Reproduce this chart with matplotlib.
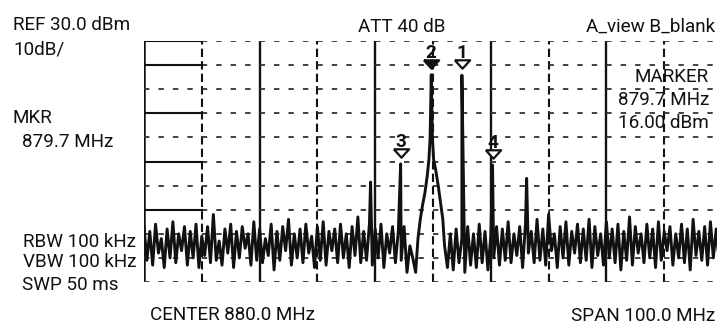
import numpy as np
import matplotlib
matplotlib.use("Agg")
import matplotlib.pyplot as plt
import matplotlib.font_manager as fm

# screen settings (dBm / MHz)
ref_level = 30.0
db_per_div = 10.0
center_mhz = 880.0
span_mhz = 100.0

# noise floor, 0.5 MHz steps
noise_left_start = 830.0
noise_left = [-47, -61, -49, -63, -46, -58, -52, -64, -48, -60,
              -45, -62, -50, -57, -47, -63, -49, -60, -46, -64,
              -51, -59, -47, -62, -42, -61, -53, -63, -48, -58,
              -46, -64, -49, -60, -47, -56, -50, -63, -45, -61,
              -48, -62, -52, -59, -46, -65, -49, -61, -47, -57,
              -44, -63, -50, -60, -48, -62, -46, -58, -51, -64,
              -47, -61, -45, -63, -49, -57, -48, -62, -46, -60,
              -50, -64, -47, -59, -43, -62, -49, -61, -46, -63,
              -48, -60, -46, -64, -50, -58, -47, -62, -49, -61,
              -47, -66, -55]
noise_right_start = 883.0
noise_right = [-50, -65, -48, -62, -52, -66, -47, -63, -50, -64,
               -46, -62, -49, -65, -51, -60, -47, -63, -48, -61,
               -45, -62, -50, -59, -47, -64, -46, -58, -49, -62,
               -44, -61, -48, -63, -42, -57, -50, -64, -47, -60,
               -45, -63, -49, -58, -46, -62, -48, -61, -44, -64,
               -47, -59, -50, -63, -45, -60, -48, -62, -46, -65,
               -49, -61, -43, -63, -47, -58, -50, -62, -46, -60,
               -48, -64, -45, -61, -49, -57, -47, -63, -50, -60,
               -46, -62, -48, -65, -44, -59, -49, -61, -47, -63,
               -45, -60, -48, -62, -47]

# main carrier skirt
carrier_freq = [876.5, 877.0, 877.4, 877.8, 878.2, 878.6, 879.0, 879.3, 879.5, 879.7,
                879.9, 880.1, 880.5, 880.9, 881.3, 881.7, 882.0, 882.5]
carrier_dbm = [-60, -66, -52, -44, -38, -33, -26, -19, -10, 16,
               -10, -19, -24, -30, -37, -44, -55, -64]

# narrow spurs / second tone / IM products
spur_freq = [869.2, 874.4, 885.0, 890.3, 896.2]
spur_dbm = [-28.5, -21.0, 15.8, -21.5, -27.0]

# markers
marker_ids = ["2", "1", "3", "4"]
marker_freq = [879.7, 885.0, 874.4, 890.3]
marker_dbm = [16.0, 15.8, -21.0, -21.5]
marker_filled = [True, False, False, False]

left_texts = ["REF 30.0 dBm", "10dB/", "MKR", "879.7 MHz",
              "RBW 100 kHz", "VBW 100 kHz", "SWP 50 ms"]
left_pos = [(13, 30), (13, 55), (13, 123), (22, 147),
            (23, 247), (23, 267), (22, 290)]
marker_box = ["MARKER", "879.7 MHz", "16.00 dBm"]
marker_box_pos = [(709, 82), (709, 105), (709, 128)]

installed = {f.name for f in fm.fontManager.ttflist}
if "Roboto" in installed:
    FONT = dict(family="Roboto", fontsize=13.6)
else:
    FONT = dict(family="DejaVu Sans", fontsize=13)

W, H = 717, 328
fig = plt.figure(figsize=(W / 100, H / 100), dpi=100)
fig.patch.set_facecolor("white")

# grid box in pixels: left 144, top 41, 578 wide, 241 high
ax = fig.add_axes([144 / W, 1 - 282 / H, 578 / W, 241 / H])
f_lo = center_mhz - span_mhz / 2
f_hi = center_mhz + span_mhz / 2
y_lo = ref_level - 10 * db_per_div
ax.set_xlim(f_lo, f_hi)
ax.set_ylim(y_lo, ref_level)
ax.set_axis_off()

ink = "#111111"

# graticule
for i in range(11):
    f = f_lo + i * span_mhz / 10
    if i == 0:
        ax.axvline(f, color=ink, lw=1.8)
    elif i % 2 == 0:
        ax.axvline(f, color=ink, lw=1.7)
    else:
        ax.axvline(f, color=ink, lw=1.5, ls=(0, (4, 2)))
for j in range(11):
    lv = ref_level - j * db_per_div
    ax.axhline(lv, color="#333333", lw=1.3, ls=(0, (3, 5)))
    if j in (0, 1, 3, 5, 7):
        ax.plot([f_lo, f_lo + span_mhz / 10], [lv, lv], color=ink, lw=1.5)

# build trace from noise, carrier and spurs
nl_f = noise_left_start + 0.5 * np.arange(len(noise_left))
nr_f = noise_right_start + 0.5 * np.arange(len(noise_right))
tf = np.concatenate([nl_f, carrier_freq, nr_f, spur_freq])
tl = np.concatenate([noise_left, carrier_dbm, noise_right, spur_dbm])
order = np.argsort(tf, kind="stable")
ax.plot(tf[order], tl[order], color=ink, lw=2.1, solid_joinstyle="round")

# markers
tri = [(-1, 0.55), (1, 0.55), (0, -0.55), (-1, 0.55)]
for mid, mf, ml, filled in zip(marker_ids, marker_freq, marker_dbm, marker_filled):
    ax.plot(mf, ml + 4.5, marker=tri, ms=11, mec=ink, mew=1.6,
            mfc=ink if filled else "white", clip_on=False)
    ax.text(mf, ml + 7.0, mid, ha="center", va="baseline", color=ink,
            fontweight="bold", **FONT)

def px_text(s, x, y, ha="left"):
    fig.text(x / W, 1 - y / H, s, ha=ha, va="baseline", color=ink, **FONT)

for s, (x, y) in zip(left_texts, left_pos):
    px_text(s, x, y)
px_text("ATT 40 dB", 358, 32)
px_text("A_view B_blank", 715, 32, ha="right")
for s, (x, y) in zip(marker_box, marker_box_pos):
    px_text(s, x, y, ha="right")
px_text("CENTER 880.0 MHz", 150, 320)
px_text("SPAN 100.0 MHz", 715, 321, ha="right")

fig.savefig("out.png", dpi=100, facecolor="white")
